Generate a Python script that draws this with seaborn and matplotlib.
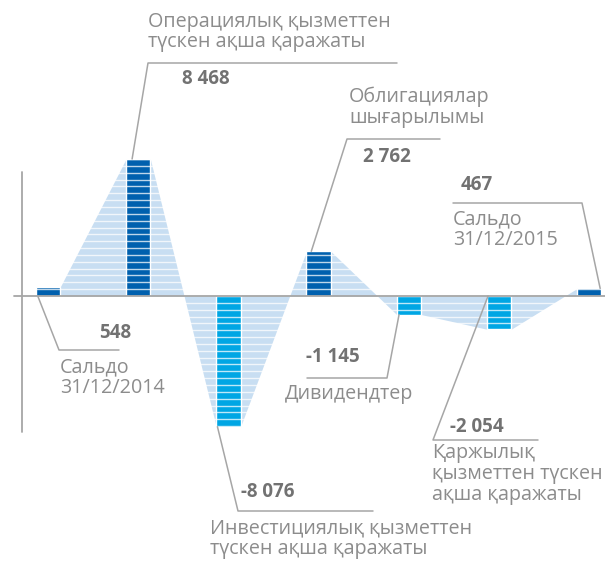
import matplotlib
matplotlib.use("Agg")
import matplotlib.pyplot as plt
import pandas as pd
import seaborn as sns

categories = ["Сальдо 31/12/2014", "Операциялық", "Инвестициялық",
              "Облигациялар", "Дивидендтер", "Қаржылық", "Сальдо 31/12/2015"]
values = [548, 8468, -8076, 2762, -1145, -2054, 467]
value_labels = ["548", "8 468", "-8 076", "2 762", "-1 145", "-2 054", "467"]
descriptions = [
    "Сальдо\n31/12/2014",
    "Операциялық қызметтен\nтүскен ақша қаражаты",
    "Инвестициялық қызметтен\nтүскен ақша қаражаты",
    "Облигациялар\nшығарылымы",
    "Дивидендтер",
    "Қаржылық\nқызметтен түскен\nақша қаражаты",
    "Сальдо\n31/12/2015",
]

W, H = 605, 561
XLIM = (-0.532, 6.175)
YLIM = (-16378, 18294)
BAR_W = 0.27
STEP = 423
DARK, LIGHT, SHADE = "#0060ae", "#00a6e4", "#c8def2"
GREY, NUM_C, TXT_C = "#a6a6a6", "#727272", "#8c8c8c"

# label layout in pixels: leader anchor (x offset in bar widths, at bar end?),
# elbow, horizontal end, number centre, description (left, middle)
layout = [
    dict(frac=-0.42, end=False, elbow=(59, 350), stop=(119, 350), num=(115, 333), desc=(60, 378)),
    dict(frac=-0.25, end=True, elbow=(148, 63), stop=(397, 63), num=(206, 79), desc=(148, 32)),
    dict(frac=-0.45, end=True, elbow=(238, 511), stop=(373, 511), num=(268, 492), desc=(210, 539)),
    dict(frac=-0.30, end=True, elbow=(347, 139), stop=(440, 139), num=(387, 157), desc=(349, 107)),
    dict(frac=-0.40, end=True, elbow=(387, 378), stop=(307, 378), num=(333, 357), desc=(285, 394)),
    dict(frac=-0.45, end=False, elbow=(433, 440), stop=(538, 440), num=(477, 427), desc=(432, 474)),
    dict(frac=0.45, end=True, elbow=(582, 203), stop=(453, 203), num=(477, 185), desc=(453, 230)),
]


def px(x, y):
    return (XLIM[0] + x / W * (XLIM[1] - XLIM[0]),
            YLIM[1] - y / H * (YLIM[1] - YLIM[0]))


def main() -> None:
    sns.set_style("white")
    plt.rcParams["font.family"] = ["Open Sans", "DejaVu Sans"]

    fig = plt.figure(figsize=(W / 100, H / 100), dpi=100)
    ax = fig.add_axes([0, 0, 1, 1])

    df = pd.DataFrame({"cat": categories, "value": values})
    palette = {c: (DARK if v > 0 else LIGHT) for c, v in zip(categories, values)}
    sns.barplot(data=df, x="cat", y="value", hue="cat", palette=palette,
                width=BAR_W, saturation=1, legend=False, ax=ax, zorder=3)

    # shaded band joining bar ends
    xs, ys = [], []
    for i, v in enumerate(values):
        xs += [i - BAR_W / 2, i + BAR_W / 2]
        ys += [v, v]
    ax.fill_between(xs[1:-1], ys[1:-1], 0, color=SHADE, lw=0, zorder=1)

    # horizontal stripes
    for k in range(-21, 22):
        if k:
            ax.hlines(k * STEP, -BAR_W / 2, len(values) - 1 + BAR_W / 2,
                      color="white", lw=1.0, alpha=0.75, zorder=4)

    ax.plot([px(14, 0)[0], XLIM[1]], [0, 0], color=GREY, lw=1.3, zorder=5)
    x0 = px(22, 0)[0]
    ax.plot([x0, x0], [px(0, 172)[1], px(0, 432)[1]], color=GREY, lw=1.3, zorder=5)

    for i, (v, lab, desc, lay) in enumerate(zip(values, value_labels, descriptions, layout)):
        anchor = (i + lay["frac"] * BAR_W, v if lay["end"] else 0)
        e, s = px(*lay["elbow"]), px(*lay["stop"])
        ax.plot([anchor[0], e[0], s[0]], [anchor[1], e[1], s[1]],
                color=GREY, lw=1.1, zorder=6)
        nx, ny = px(*lay["num"])
        ax.text(nx, ny, lab, ha="center", va="center", fontsize=13.5,
                fontweight="bold", color=NUM_C, zorder=10)
        dx, dy = px(*lay["desc"])
        ax.text(dx, dy, desc, ha="left", va="center", fontsize=14.2,
                color=TXT_C, linespacing=1.05, zorder=10)

    ax.set_xlim(*XLIM)
    ax.set_ylim(*YLIM)
    ax.axis("off")
    fig.savefig("out.png", dpi=100)


if __name__ == "__main__":
    main()
